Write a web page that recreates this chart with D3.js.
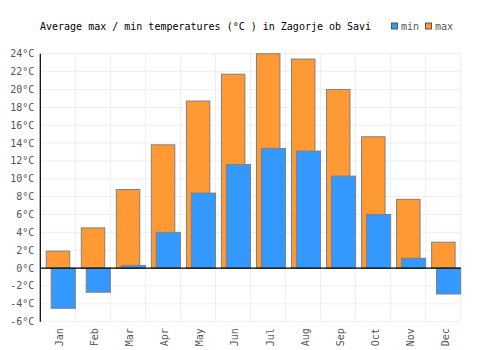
<!DOCTYPE html>
<html>
<head>
<meta charset="utf-8">
<script src="https://cdn.jsdelivr.net/npm/d3@7"></script>
<style>
  body { margin: 0; background: #fff; }
  svg { font-family: "DejaVu Sans Mono", monospace; }
</style>
</head>
<body>
<svg id="chart"></svg>
<script>
// Chart data
const months = ['Jan', 'Feb', 'Mar', 'Apr', 'May', 'Jun', 'Jul', 'Aug', 'Sep', 'Oct', 'Nov', 'Dec'];
const maxTemps = [1.9, 4.5, 8.8, 13.8, 18.7, 21.7, 24.0, 23.4, 20.0, 14.7, 7.7, 2.9];
const minTemps = [-4.5, -2.7, 0.3, 4.0, 8.4, 11.6, 13.4, 13.1, 10.3, 6.0, 1.1, -2.9];
const yTicks = [-6, -4, -2, 0, 2, 4, 6, 8, 10, 12, 14, 16, 18, 20, 22, 24];

const width = 500;
const height = 350;
const margin = { top: 53.7, right: 39.3, bottom: 28.3, left: 40.3 };

const svg = d3.select('#chart')
  .attr('width', width)
  .attr('height', height);

const x = d3.scaleBand()
  .domain(months)
  .range([margin.left, width - margin.right])
  .padding(0);

const y = d3.scaleLinear()
  .domain([-6, 24])
  .range([height - margin.bottom, margin.top]);

const bw = x.bandwidth();

// Grid
const grid = svg.append('g').attr('stroke', '#eeeeee').attr('stroke-width', 1);
grid.selectAll('.hgrid')
  .data(yTicks)
  .enter().append('line')
    .attr('x1', margin.left)
    .attr('x2', width - margin.right)
    .attr('y1', d => y(d))
    .attr('y2', d => y(d));
grid.selectAll('.vgrid')
  .data(months.map((m, i) => x(m) + bw).concat([margin.left]))
  .enter().append('line')
    .attr('x1', d => d)
    .attr('x2', d => d)
    .attr('y1', y(24))
    .attr('y2', y(-6));

// Max bars (behind)
svg.selectAll('.max')
  .data(maxTemps)
  .enter().append('rect')
    .attr('x', (d, i) => x(months[i]) + bw * 0.17)
    .attr('width', bw * 0.67)
    .attr('y', d => y(Math.max(0, d)))
    .attr('height', d => Math.abs(y(d) - y(0)))
    .attr('fill', '#ff9933')
    .attr('stroke', '#808080')
    .attr('stroke-width', 1);

// Min bars (front)
svg.selectAll('.min')
  .data(minTemps)
  .enter().append('rect')
    .attr('x', (d, i) => x(months[i]) + bw * 0.31)
    .attr('width', bw * 0.69)
    .attr('y', d => y(Math.max(0, d)))
    .attr('height', d => Math.abs(y(d) - y(0)))
    .attr('fill', '#3399ff')
    .attr('stroke', '#808080')
    .attr('stroke-width', 1);

// Zero line and left axis
svg.append('line')
  .attr('x1', margin.left).attr('x2', width - margin.right)
  .attr('y1', y(0)).attr('y2', y(0))
  .attr('stroke', '#000').attr('stroke-width', 1.2);
svg.append('line')
  .attr('x1', margin.left).attr('x2', margin.left)
  .attr('y1', y(24)).attr('y2', y(-6))
  .attr('stroke', '#000').attr('stroke-width', 1.2);

// Y labels
svg.selectAll('.ylab')
  .data(yTicks)
  .enter().append('text')
    .attr('x', margin.left - 6)
    .attr('y', d => y(d))
    .attr('dy', '0.35em')
    .attr('text-anchor', 'end')
    .attr('font-size', 10)
    .attr('fill', '#555')
    .text(d => d + '°C');

// X labels
svg.selectAll('.xlab')
  .data(months)
  .enter().append('text')
    .attr('transform', d => `translate(${x(d) + bw / 2 + 5.5},${y(-6) + 6.5}) rotate(-90)`)
    .attr('text-anchor', 'end')
    .attr('font-size', 10)
    .attr('fill', '#555')
    .text(d => d);

// Title
svg.append('text')
  .attr('x', 40)
  .attr('y', 30)
  .attr('font-size', 10)
  .attr('fill', '#000')
  .text('Average max / min temperatures (°C ) in Zagorje ob Savi');

// Legend
const legendItems = [
  { name: 'min', color: '#3399ff', x: 391.5 },
  { name: 'max', color: '#ff9933', x: 425.5 }
];
const legend = svg.selectAll('.legend')
  .data(legendItems)
  .enter().append('g')
    .attr('transform', d => `translate(${d.x},23)`);
legend.append('rect')
  .attr('width', 6).attr('height', 6)
  .attr('fill', d => d.color)
  .attr('stroke', '#555').attr('stroke-width', 1);
legend.append('text')
  .attr('x', 9.5)
  .attr('y', 7)
  .attr('font-size', 10)
  .attr('fill', '#555')
  .text(d => d.name);
</script>
</body>
</html>
